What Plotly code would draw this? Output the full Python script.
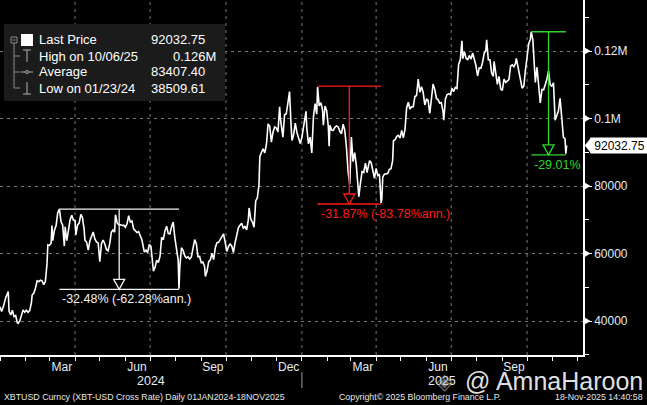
import pandas as pd
import plotly.graph_objects as go

# XBTUSD daily, values (spikes kept where the chart shows them)
dates = [
    "2024-01-01", "2024-01-03", "2024-01-05", "2024-01-08", "2024-01-11", "2024-01-12", "2024-01-14", "2024-01-16",
    "2024-01-18", "2024-01-20", "2024-01-22", "2024-01-23", "2024-01-25", "2024-01-27", "2024-01-29", "2024-01-31",
    "2024-02-02", "2024-02-04", "2024-02-06", "2024-02-08", "2024-02-09", "2024-02-11", "2024-02-13", "2024-02-15",
    "2024-02-17", "2024-02-19", "2024-02-21", "2024-02-23", "2024-02-25", "2024-02-27", "2024-02-28", "2024-03-01",
    "2024-03-03", "2024-03-04", "2024-03-05", "2024-03-07", "2024-03-09", "2024-03-11", "2024-03-13", "2024-03-15",
    "2024-03-17", "2024-03-19", "2024-03-20", "2024-03-22", "2024-03-24", "2024-03-26", "2024-03-28", "2024-03-30",
    "2024-04-01", "2024-04-02", "2024-04-04", "2024-04-06", "2024-04-08", "2024-04-10", "2024-04-12", "2024-04-13",
    "2024-04-15", "2024-04-17", "2024-04-19", "2024-04-21", "2024-04-23", "2024-04-25", "2024-04-27", "2024-04-29",
    "2024-05-01", "2024-05-03", "2024-05-05", "2024-05-07", "2024-05-09", "2024-05-11", "2024-05-13", "2024-05-15",
    "2024-05-17", "2024-05-19", "2024-05-20", "2024-05-22", "2024-05-24", "2024-05-26", "2024-05-28", "2024-05-30",
    "2024-06-01", "2024-06-03", "2024-06-05", "2024-06-07", "2024-06-09", "2024-06-11", "2024-06-13", "2024-06-15",
    "2024-06-17", "2024-06-19", "2024-06-21", "2024-06-24", "2024-06-26", "2024-06-28", "2024-06-30", "2024-07-02",
    "2024-07-04", "2024-07-05", "2024-07-07", "2024-07-09", "2024-07-11", "2024-07-13", "2024-07-15", "2024-07-17",
    "2024-07-19", "2024-07-21", "2024-07-23", "2024-07-25", "2024-07-27", "2024-07-29", "2024-07-31", "2024-08-02",
    "2024-08-04", "2024-08-05", "2024-08-06", "2024-08-08", "2024-08-10", "2024-08-12", "2024-08-14", "2024-08-16",
    "2024-08-18", "2024-08-20", "2024-08-22", "2024-08-24", "2024-08-26", "2024-08-28", "2024-08-30", "2024-09-01",
    "2024-09-03", "2024-09-05", "2024-09-06", "2024-09-08", "2024-09-10", "2024-09-12", "2024-09-14", "2024-09-16",
    "2024-09-18", "2024-09-20", "2024-09-22", "2024-09-24", "2024-09-26", "2024-09-28", "2024-09-30", "2024-10-02",
    "2024-10-04", "2024-10-06", "2024-10-08", "2024-10-10", "2024-10-12", "2024-10-14", "2024-10-16", "2024-10-18",
    "2024-10-20", "2024-10-22", "2024-10-24", "2024-10-26", "2024-10-28", "2024-10-29", "2024-10-31", "2024-11-02",
    "2024-11-04", "2024-11-06", "2024-11-08", "2024-11-10", "2024-11-11", "2024-11-13", "2024-11-15", "2024-11-17",
    "2024-11-19", "2024-11-21", "2024-11-23", "2024-11-25", "2024-11-27", "2024-11-29", "2024-12-01", "2024-12-03",
    "2024-12-05", "2024-12-06", "2024-12-09", "2024-12-11", "2024-12-13", "2024-12-15", "2024-12-17", "2024-12-19",
    "2024-12-20", "2024-12-22", "2024-12-24", "2024-12-26", "2024-12-28", "2024-12-30",
    "2025-01-01", "2025-01-03", "2025-01-06", "2025-01-07", "2025-01-09", "2025-01-11", "2025-01-13", "2025-01-15",
    "2025-01-17", "2025-01-19", "2025-01-20", "2025-01-22", "2025-01-24", "2025-01-26", "2025-01-27", "2025-01-29",
    "2025-01-31", "2025-02-02", "2025-02-03", "2025-02-04", "2025-02-06", "2025-02-08", "2025-02-10", "2025-02-12",
    "2025-02-14", "2025-02-16", "2025-02-18", "2025-02-20", "2025-02-22", "2025-02-24", "2025-02-26", "2025-02-28",
    "2025-03-02", "2025-03-04", "2025-03-06", "2025-03-08", "2025-03-10", "2025-03-11", "2025-03-13", "2025-03-15",
    "2025-03-17", "2025-03-19", "2025-03-21", "2025-03-24", "2025-03-26", "2025-03-28", "2025-03-30", "2025-04-01",
    "2025-04-03", "2025-04-05", "2025-04-07", "2025-04-08", "2025-04-09", "2025-04-11", "2025-04-13", "2025-04-15",
    "2025-04-17", "2025-04-19", "2025-04-21", "2025-04-22", "2025-04-24", "2025-04-26", "2025-04-28", "2025-04-30",
    "2025-05-02", "2025-05-04", "2025-05-06", "2025-05-08", "2025-05-10", "2025-05-12", "2025-05-14", "2025-05-16",
    "2025-05-18", "2025-05-20", "2025-05-22", "2025-05-24", "2025-05-26", "2025-05-28", "2025-05-30", "2025-06-01",
    "2025-06-03", "2025-06-05", "2025-06-07", "2025-06-09", "2025-06-11", "2025-06-13", "2025-06-15", "2025-06-17",
    "2025-06-19", "2025-06-21", "2025-06-22", "2025-06-24", "2025-06-26", "2025-06-28", "2025-06-30", "2025-07-02",
    "2025-07-04", "2025-07-06", "2025-07-08", "2025-07-10", "2025-07-12", "2025-07-14", "2025-07-15", "2025-07-17",
    "2025-07-19", "2025-07-21", "2025-07-23", "2025-07-25", "2025-07-27", "2025-07-29", "2025-07-31", "2025-08-02",
    "2025-08-04", "2025-08-06", "2025-08-08", "2025-08-10", "2025-08-12", "2025-08-13", "2025-08-15", "2025-08-17",
    "2025-08-19", "2025-08-21", "2025-08-22", "2025-08-24", "2025-08-26", "2025-08-28", "2025-08-30", "2025-09-01",
    "2025-09-03", "2025-09-05", "2025-09-07", "2025-09-09", "2025-09-11", "2025-09-13", "2025-09-15", "2025-09-17",
    "2025-09-18", "2025-09-20", "2025-09-22", "2025-09-25", "2025-09-27", "2025-09-29", "2025-10-01", "2025-10-03",
    "2025-10-05", "2025-10-06", "2025-10-08", "2025-10-10", "2025-10-11", "2025-10-13", "2025-10-15", "2025-10-17",
    "2025-10-19", "2025-10-21", "2025-10-23", "2025-10-25", "2025-10-27", "2025-10-29", "2025-10-31", "2025-11-02",
    "2025-11-04", "2025-11-06", "2025-11-08", "2025-11-10", "2025-11-11", "2025-11-13", "2025-11-14", "2025-11-16",
    "2025-11-17", "2025-11-18",
]
prices = [
    44200, 42800, 44200, 47000, 48700, 42900, 41800, 43200,
    41300, 41600, 39500, 39300, 40000, 42100, 43300, 42600,
    43200, 42600, 43100, 45300, 47700, 48300, 49700, 51900,
    51700, 52100, 51900, 50800, 51700, 57000, 62500, 62400,
    63100, 68300, 63800, 66900, 68300, 72100, 73150, 69400,
    68400, 62200, 67900, 63800, 67200, 70000, 71300, 69900,
    69700, 65500, 68500, 69000, 71600, 70600, 67100, 63900,
    63400, 61000, 63800, 64900, 66400, 64300, 63400, 63100,
    57600, 62900, 64000, 62900, 61200, 60800, 62900, 66300,
    67000, 66300, 71500, 69100, 68500, 68500, 68300, 68400,
    67800, 68800, 71200, 69300, 69600, 67300, 66800, 66200,
    66500, 65000, 64100, 60400, 61000, 60300, 62700, 62100,
    57000, 54800, 55900, 58000, 57300, 59200, 64800, 64100,
    66700, 68100, 65900, 65800, 67900, 69300, 64600, 61400,
    58100, 49600, 56000, 61700, 60900, 59300, 58700, 59000,
    58400, 59000, 61100, 64100, 62900, 59000, 59100, 57300,
    57500, 56200, 53200, 54800, 57600, 58100, 60000, 58200,
    61700, 63200, 63300, 64300, 65200, 65800, 63300, 60600,
    62100, 62800, 62200, 60300, 63200, 66000, 67600, 68400,
    69000, 67400, 68100, 67000, 69900, 73500, 70200, 69300,
    67800, 75600, 76500, 80400, 88700, 90000, 91000, 89800,
    92300, 98400, 97700, 93000, 96000, 97500, 97200, 96000,
    103500, 99900, 94500, 101100, 101400, 104500, 108000, 97500,
    93500, 95200, 98600, 95800, 94300, 92600,
    94400, 98100, 102100, 96900, 92500, 94500, 89800, 100500,
    104400, 101300, 109300, 103700, 104700, 102600, 98000, 103700,
    102400, 97700, 91800, 98000, 96600, 96500, 97400, 97800,
    97500, 96200, 95500, 98300, 96500, 91400, 84300, 80500,
    94500, 87200, 89900, 86100, 78500, 76800, 80900, 84300,
    84000, 86800, 84000, 87500, 86900, 84400, 82300, 85200,
    83100, 83500, 75000, 76300, 82600, 83500, 83700, 83700,
    84900, 85100, 87500, 93400, 93700, 94700, 95000, 94200,
    96500, 94300, 96800, 103200, 104800, 102800, 103500, 103500,
    106500, 106800, 111700, 107800, 109400, 107800, 104000, 105700,
    105400, 101500, 105700, 110200, 108700, 106000, 105600, 104600,
    104700, 102200, 99500, 105800, 107100, 107300, 107100, 108900,
    108000, 109200, 108900, 116000, 117400, 123000, 117700, 119800,
    117900, 117300, 118700, 117600, 119400, 117900, 115700, 112600,
    115000, 114900, 116600, 119300, 120100, 123300, 117400, 117400,
    113500, 112500, 116900, 113500, 110100, 112500, 108800, 108300,
    111700, 110700, 111100, 111500, 115500, 115900, 115300, 116400,
    117800, 115700, 112700, 109000, 109600, 114300, 118600, 122200,
    123500, 125700, 123300, 113200, 110700, 115200, 110700, 104600,
    108600, 108500, 110000, 111600, 114100, 110000, 109600, 110600,
    99500, 101300, 102300, 106000, 103000, 99700, 94500, 94000,
    89600, 92032.75,
]

# axis labels
quarter_starts = ["2024-04-01", "2024-07-01", "2024-10-01", "2025-01-01", "2025-04-01", "2025-07-01", "2025-10-01"]
month_label_dates = ["2024-03-16", "2024-06-15", "2024-09-15", "2024-12-16", "2025-03-16", "2025-06-15", "2025-09-15"]
month_labels = ["Mar", "Jun", "Sep", "Dec", "Mar", "Jun", "Sep"]
year_label_dates = ["2024-07-01 12:00", "2025-06-20"]
year_labels = ["2024", "2025"]
y_tickvals = [40000, 60000, 80000, 100000, 120000]
y_ticktext = ["40000", "60000", "80000", "0.1M", "0.12M"]

# drawdown markers
dd_start = ["2024-03-13", "2025-01-20", "2025-10-06"]
dd_end = ["2024-08-05", "2025-04-07", "2025-11-17"]
dd_high = [73150, 109600, 125700]
dd_low = [49390, 74670, 89240]
dd_text = ["-32.48% (-62.28%ann.)", "-31.87% (-83.78%ann.)", "-29.01%"]
dd_colors = ["#f2f2f2", "#ff1a1a", "#2fd62f"]

# legend block
legend_names = ["Last Price", "High on 10/06/25", "Average", "Low on 01/23/24"]
legend_values = ["92032.75", "0.126M", "83407.40", "38509.61"]
last_price = 92032.75

W, H = 647, 405
ML, MR, MT, MB = 0, 64, 0, 50
PW, PH = W - ML - MR, H - MT - MB
X_RANGE = ["2024-01-01", "2025-12-07 19:00"]
Y_RANGE = [29930, 135110]
FONT = "Liberation Sans, Arial, sans-serif"
LABEL = "#e4ecf7"
GRID = "#777777"


def fx(px):
    return (px - ML) / PW


def fy(py):
    return 1 - (py - MT) / PH


def date_frac(d):
    t0, t1 = pd.Timestamp(X_RANGE[0]), pd.Timestamp(X_RANGE[1])
    return (pd.Timestamp(d) - t0) / (t1 - t0)


def val_frac(v):
    return (v - Y_RANGE[0]) / (Y_RANGE[1] - Y_RANGE[0])


fig = go.Figure()
fig.add_trace(go.Scatter(x=dates, y=prices, mode="lines",
                         line=dict(color="white", width=1.6), hoverinfo="skip"))

shapes = []
annotations = []

# vertical grid at quarter starts (y refs so it sits above the plot background)
for q in quarter_starts:
    shapes.append(dict(type="line", xref="x", yref="y", x0=q, x1=q, y0=Y_RANGE[0], y1=Y_RANGE[1],
                       line=dict(color=GRID, width=1, dash="3px,4px"), layer="below"))

# drawdown brackets
for s, e, hi, lo, txt, col in zip(dd_start, dd_end, dd_high, dd_low, dd_text, dd_colors):
    mid = pd.Timestamp(s) + (pd.Timestamp(e) - pd.Timestamp(s)) / 2
    mid = mid.strftime("%Y-%m-%d %H:%M")
    ln = dict(color=col, width=1.3)
    shapes.append(dict(type="line", xref="x", yref="y", x0=s, x1=e, y0=hi, y1=hi, line=ln))
    shapes.append(dict(type="line", xref="x", yref="y", x0=s, x1=e, y0=lo, y1=lo, line=ln))
    shapes.append(dict(type="line", xref="x", yref="y", x0=mid, x1=mid, y0=hi, y1=lo, line=ln))
    shapes.append(dict(type="path", xref="x", yref="y", xsizemode="pixel", ysizemode="pixel",
                       xanchor=mid, yanchor=lo, path="M -5.5,10 L 5.5,10 L 0,0 Z",
                       fillcolor="black", line=ln))
    annotations.append(dict(x=s, y=lo, xref="x", yref="y", text=txt, showarrow=False,
                            xanchor="left", yanchor="top", xshift=1, yshift=-1,
                            font=dict(family=FONT, size=12.5, color=col)))

# little arrows on right-axis ticks
for v in y_tickvals:
    shapes.append(dict(type="path", xref="paper", yref="paper", xsizemode="pixel", ysizemode="pixel",
                       xanchor=1, yanchor=val_frac(v), path="M 2,-3 L 7,0 L 2,3 Z",
                       fillcolor="white", line=dict(color="white", width=0.5)))

# last price tag
shapes.append(dict(type="path", xref="paper", yref="paper", xsizemode="pixel", ysizemode="pixel",
                   xanchor=1, yanchor=val_frac(last_price), path="M 2,0 L 8,7.5 L 8,-7.5 Z",
                   fillcolor="white", line=dict(color="white", width=0.5)))
annotations.append(dict(x=1, xref="paper", y=last_price, yref="y", text=f"{last_price:.2f}",
                        showarrow=False, xanchor="left", xshift=7, bgcolor="white", borderpad=1,
                        width=55, height=13, font=dict(family=FONT, size=12, color="black")))

# legend block
shapes.append(dict(type="rect", xref="paper", yref="paper", x0=fx(4), x1=fx(225), y0=fy(24), y1=fy(101),
                   fillcolor="#1b1b1b", line=dict(width=0), layer="above"))
tree = dict(color="#8a8a8a", width=1)
shapes.append(dict(type="rect", xref="paper", yref="paper", x0=fx(11), x1=fx(17), y0=fy(37), y1=fy(43), line=tree))
shapes.append(dict(type="line", xref="paper", yref="paper", x0=fx(12.5), x1=fx(15.5), y0=fy(40), y1=fy(40), line=tree))
shapes.append(dict(type="line", xref="paper", yref="paper", x0=fx(14), x1=fx(14), y0=fy(43), y1=fy(88), line=tree))
for yy in [56, 72, 88]:
    shapes.append(dict(type="line", xref="paper", yref="paper", x0=fx(14), x1=fx(20), y0=fy(yy), y1=fy(yy), line=tree))
shapes.append(dict(type="rect", xref="paper", yref="paper", x0=fx(21), x1=fx(33), y0=fy(34), y1=fy(46),
                   fillcolor="white", line=dict(width=0)))
icon = dict(color="#b0b0b0", width=1)
shapes.append(dict(type="line", xref="paper", yref="paper", x0=fx(23), x1=fx(31), y0=fy(50), y1=fy(50), line=icon))
shapes.append(dict(type="line", xref="paper", yref="paper", x0=fx(27), x1=fx(27), y0=fy(50), y1=fy(62), line=icon))
shapes.append(dict(type="line", xref="paper", yref="paper", x0=fx(21), x1=fx(33), y0=fy(72), y1=fy(72), line=icon))
shapes.append(dict(type="circle", xref="paper", yref="paper", x0=fx(25.5), x1=fx(28.5), y0=fy(70.5), y1=fy(73.5),
                   fillcolor="#1b1b1b", line=icon))
shapes.append(dict(type="line", xref="paper", yref="paper", x0=fx(27), x1=fx(27), y0=fy(82), y1=fy(94), line=icon))
shapes.append(dict(type="line", xref="paper", yref="paper", x0=fx(23), x1=fx(31), y0=fy(94), y1=fy(94), line=icon))

for i, (name, val) in enumerate(zip(legend_names, legend_values)):
    yy = fy(40 + 16 * i)
    annotations.append(dict(x=fx(37), y=yy, xref="paper", yref="paper", text=name, showarrow=False,
                            xanchor="left", yanchor="middle", font=dict(family=FONT, size=13, color="white")))
    right = val.endswith("M")
    annotations.append(dict(x=fx(218) if right else fx(149), y=yy, xref="paper", yref="paper", text=val,
                            showarrow=False, xanchor="right" if right else "left", yanchor="middle",
                            font=dict(family=FONT, size=13, color="white")))

# year row
for d, t in zip(year_label_dates, year_labels):
    annotations.append(dict(x=d, xref="x", y=fy(381), yref="paper", text=t, showarrow=False,
                            yanchor="middle", font=dict(family=FONT, size=12.5, color=LABEL)))
sep = date_frac("2025-01-01")
shapes.append(dict(type="line", xref="paper", yref="paper", x0=sep, x1=sep, y0=fy(372), y1=fy(388),
                   line=dict(color="#9a9a9a", width=1)))

# watermark
annotations.append(dict(x=fx(434), y=fy(382), xref="paper", yref="paper", text="◈", showarrow=False,
                        xanchor="left", yanchor="middle",
                        font=dict(family="DejaVu Sans", size=22, color="rgba(200,200,200,0.55)")))
annotations.append(dict(x=fx(463), y=fy(381), xref="paper", yref="paper", text="@ AmnaHaroon",
                        showarrow=False, xanchor="left", yanchor="middle",
                        font=dict(family=FONT, size=25, color="rgba(255,255,255,0.9)")))

# footer
FOOT = "Liberation Sans, Arial, sans-serif"
annotations.append(dict(x=fx(2), y=fy(397), xref="paper", yref="paper",
                        text="XBTUSD Curncy (XBT-USD Cross Rate) Daily 01JAN2024-18NOV2025",
                        showarrow=False, xanchor="left", yanchor="middle",
                        font=dict(family=FOOT, size=8.8, color="#e8e8e8")))
annotations.append(dict(x=fx(337), y=fy(397), xref="paper", yref="paper",
                        text="Copyright© 2025 Bloomberg Finance L.P.",
                        showarrow=False, xanchor="left", yanchor="middle",
                        font=dict(family=FOOT, size=8.8, color="#e8e8e8")))
annotations.append(dict(x=fx(645), y=fy(397), xref="paper", yref="paper",
                        text="18-Nov-2025 14:40:58",
                        showarrow=False, xanchor="right", yanchor="middle",
                        font=dict(family=FOOT, size=8.8, color="#e8e8e8")))

fig.update_layout(
    width=W, height=H,
    margin=dict(l=ML, r=MR, t=MT, b=MB),
    paper_bgcolor="black", plot_bgcolor="black",
    showlegend=False,
    font=dict(family=FONT, size=12, color=LABEL),
    xaxis=dict(
        range=X_RANGE, type="date",
        tickvals=month_label_dates, ticktext=month_labels, ticks="",
        tickfont=dict(size=12, color=LABEL),
        showgrid=False, zeroline=False,
        showline=True, linecolor="white", linewidth=1.5,
        minor=dict(dtick="M1", tick0="2024-01-01", ticks="outside", ticklen=4,
                   tickcolor="white", tickwidth=1, showgrid=False),
    ),
    yaxis=dict(
        range=Y_RANGE, side="right",
        tickvals=y_tickvals, ticktext=y_ticktext,
        ticks="outside", ticklen=7, tickcolor="white", tickwidth=1,
        tickfont=dict(size=12, color=LABEL),
        showgrid=True, gridcolor=GRID, griddash="3px,4px", gridwidth=1,
        zeroline=False,
        showline=True, linecolor="white", linewidth=1.5,
        minor=dict(dtick=10000, tick0=0, ticks="outside", ticklen=4,
                   tickcolor="white", tickwidth=1, showgrid=False),
    ),
    shapes=shapes,
    annotations=annotations,
)

fig.write_html("out.html", config={"displayModeBar": False},
               post_script="document.body.style.margin='0';")
